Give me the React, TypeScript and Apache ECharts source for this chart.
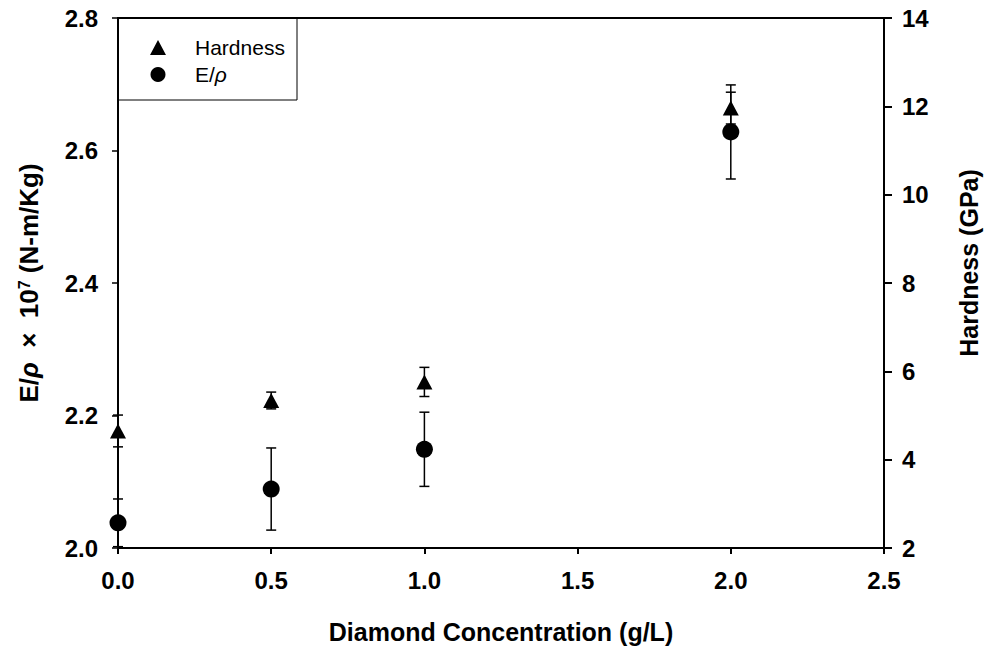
import React, { useEffect, useRef } from "react";
import * as echarts from "echarts";

// Diamond concentration in the plating bath (g/L)
const concentration = [0, 0.5, 1.0, 2.0];
// Specific modulus E/ρ × 10^7 (N-m/Kg) with its standard deviation
const modulusRatio = [2.038, 2.089, 2.149, 2.628];
const modulusRatioError = [0.036, 0.062, 0.056, 0.071];
// Hardness (GPa) with its standard deviation
const hardness = [4.65, 5.34, 5.76, 11.96];
const hardnessError = [0.36, 0.19, 0.33, 0.36];

const xTicks = { min: 0, max: 2.5, interval: 0.5 };
const leftTicks = { min: 2.0, max: 2.8, interval: 0.2 };
const rightTicks = { min: 2, max: 14, interval: 2 };

const FONT = "'Liberation Sans', Arial, Helvetica, sans-serif";

const errorBarItem = (params: any, api: any) => {
  const x = api.value(0);
  const lo = api.coord([x, api.value(1)]);
  const hi = api.coord([x, api.value(2)]);
  const cap = 5;
  const style = { stroke: "#000", lineWidth: 1.5 };
  return {
    type: "group",
    children: [
      { type: "line", shape: { x1: lo[0], y1: lo[1], x2: hi[0], y2: hi[1] }, style },
      { type: "line", shape: { x1: hi[0] - cap, y1: hi[1], x2: hi[0] + cap, y2: hi[1] }, style },
      { type: "line", shape: { x1: lo[0] - cap, y1: lo[1], x2: lo[0] + cap, y2: lo[1] }, style },
    ],
  };
};

export default function App() {
  const ref = useRef<HTMLDivElement>(null);

  useEffect(() => {
    if (!ref.current) return;
    const chart = echarts.init(ref.current, undefined, { renderer: "svg" });

    const modulusPoints = concentration.map((c, i) => [c, modulusRatio[i]]);
    const hardnessPoints = concentration.map((c, i) => [c, hardness[i]]);
    const modulusBars = concentration.map((c, i) => [
      c,
      modulusRatio[i] - modulusRatioError[i],
      modulusRatio[i] + modulusRatioError[i],
    ]);
    const hardnessBars = concentration.map((c, i) => [
      c,
      hardness[i] - hardnessError[i],
      hardness[i] + hardnessError[i],
    ]);

    const tickLabel = {
      color: "#000",
      fontFamily: FONT,
      fontWeight: "bold" as const,
      fontSize: 24,
    };

    chart.setOption({
      animation: false,
      backgroundColor: "#fff",
      textStyle: { fontFamily: FONT },
      grid: {
        left: 118,
        right: 100,
        top: 18,
        bottom: 103,
        outerBoundsMode: "none",
        containLabel: false,
        show: true,
        borderColor: "#000",
        borderWidth: 2,
        backgroundColor: "transparent",
      },
      legend: {
        orient: "vertical",
        left: 150,
        top: 37,
        padding: 0,
        itemGap: 6,
        itemWidth: 16,
        itemHeight: 15,
        data: ["Hardness", "E/ρ"],
        formatter: (name: string) => (name === "E/ρ" ? "{n|E/}{i|ρ}" : "{n|" + name + "}"),
        textStyle: {
          color: "#000",
          fontFamily: FONT,
          fontSize: 21,
          padding: [0, 0, 0, 24],
          rich: {
            n: { fontFamily: FONT, fontSize: 21, color: "#000", lineHeight: 20 },
            i: { fontFamily: FONT, fontSize: 21, color: "#000", fontStyle: "italic", lineHeight: 20 },
          },
        },
      },
      graphic: [
        {
          type: "rect",
          shape: { x: 118, y: 18, width: 179, height: 82 },
          style: { fill: "none", stroke: "#000", lineWidth: 1 },
          z: 10,
        },
      ],
      xAxis: {
        type: "value",
        ...xTicks,
        name: "Diamond Concentration (g/L)",
        nameLocation: "middle",
        nameGap: 71,
        nameTextStyle: { ...tickLabel, fontSize: 25, verticalAlign: "top" },
        axisLine: { lineStyle: { color: "#000", width: 2 } },
        axisTick: { show: true, inside: false, length: 6, lineStyle: { color: "#000", width: 2 } },
        axisLabel: { ...tickLabel, margin: 20, formatter: (v: number) => v.toFixed(1) },
        splitLine: { show: false },
      },
      yAxis: [
        {
          type: "value",
          position: "left",
          ...leftTicks,
          name: "{b|E/}{i|ρ}{b|  ×  10}{s|7}{b| (N-m/Kg)}",
          nameLocation: "middle",
          nameRotate: 90,
          nameGap: 76,
          nameTextStyle: {
            ...tickLabel,
            fontSize: 26,
            rich: {
              b: { fontFamily: FONT, fontWeight: "bold", fontSize: 26, color: "#000" },
              i: { fontFamily: FONT, fontWeight: "bold", fontStyle: "italic", fontSize: 26, color: "#000" },
              s: { fontFamily: FONT, fontWeight: "bold", fontSize: 16, color: "#000", verticalAlign: "top" },
            },
          },
          axisLine: { show: true, lineStyle: { color: "#000", width: 2 } },
          axisTick: { show: true, inside: false, length: 6, lineStyle: { color: "#000", width: 1.5 } },
          axisLabel: { ...tickLabel, margin: 20, formatter: (v: number) => v.toFixed(1) },
          splitLine: { show: false },
        },
        {
          type: "value",
          position: "right",
          ...rightTicks,
          name: "Hardness (GPa)",
          nameLocation: "middle",
          nameRotate: 90,
          nameGap: 72,
          nameTextStyle: { ...tickLabel, fontSize: 25, padding: [0, 0, 0, 40] },
          axisLine: { show: true, lineStyle: { color: "#000", width: 2 } },
          axisTick: { show: true, inside: false, length: 8, lineStyle: { color: "#000", width: 2 } },
          axisLabel: { ...tickLabel, margin: 18, formatter: (v: number) => String(v) },
          splitLine: { show: false },
        },
      ],
      series: [
        {
          type: "custom",
          name: "E/ρ error",
          yAxisIndex: 0,
          renderItem: errorBarItem,
          encode: { x: 0, y: [1, 2] },
          data: modulusBars,
          clip: false,
          z: 1,
          silent: true,
        },
        {
          type: "custom",
          name: "Hardness error",
          yAxisIndex: 1,
          renderItem: errorBarItem,
          encode: { x: 0, y: [1, 2] },
          data: hardnessBars,
          clip: false,
          z: 1,
          silent: true,
        },
        {
          type: "scatter",
          name: "Hardness",
          yAxisIndex: 1,
          symbol: "triangle",
          symbolSize: [16, 15],
          itemStyle: { color: "#000", opacity: 1 },
          data: hardnessPoints,
          clip: false,
          z: 3,
        },
        {
          type: "scatter",
          name: "E/ρ",
          yAxisIndex: 0,
          symbol: "circle",
          symbolSize: 17,
          itemStyle: { color: "#000", opacity: 1 },
          data: modulusPoints,
          clip: false,
          z: 3,
        },
      ],
    });

    return () => chart.dispose();
  }, []);

  return (
    <div
      ref={ref}
      style={{ position: "fixed", left: 0, top: 0, width: 984, height: 651 }}
    />
  );
}
